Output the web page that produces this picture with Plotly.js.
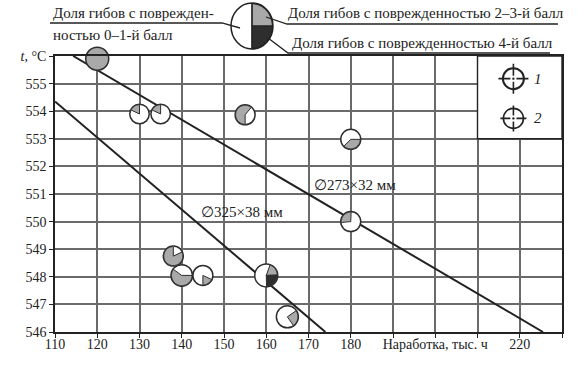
<!DOCTYPE html>
<html><head><meta charset="utf-8">
<script src="https://cdn.plot.ly/plotly-3.0.1.min.js"></script>
<style>html,body{margin:0;padding:0;background:#fff}</style>
</head><body><div id="chart" style="width:585px;height:369px"></div>
<script>
// ---- data ----
const pointX   = [120, 130, 135, 155, 180, 180, 138, 140, 145, 160, 165];
const pointT   = [555.9, 553.9, 553.9, 553.87, 552.98, 550.0, 548.75, 548.05, 548.05, 548.05, 546.55];
const share23  = [1.0, 0.18, 0.18, 0.61, 0.375, 0.27, 0.82, 0.6, 0.18, 0.19, 0.25];
const share4   = [0, 0, 0, 0, 0, 0, 0, 0, 0, 0.25, 0];
const line1X = [114.3, 225.5], line1T = [556, 546];   // ∅273×32 мм
const line2X = [110, 174],     line2T = [554.35, 546]; // ∅325×38 мм
const xTickVals = [110,120,130,140,150,160,170,180,190,200,210,220,230];
const xTickText = ['110','120','130','140','150','160','170','180','','Наработка, тыс. ч','','220',''];
const yTickVals = [546,547,548,549,550,551,552,553,554,555,556];
const yTickText = ['546','547','548','549','550','551','552','553','554','555','<i>t</i>, °C'];

// ---- style ----
const glyphStart = [90, 155, 155, 270, 0, 185, 25, 0, -25, 70, 35];
const glyphSize  = [23, 19.5, 19.5, 20, 20, 20, 20, 21.5, 20, 23, 22];
const GREY = '#a9a9a9', DARK = '#2e2e2e', INK = '#222';
const FONT = '"Liberation Serif", "DejaVu Serif", serif';
const W = 585, H = 369, M = {l:55, r:23, t:56, b:37};
const PW = W - M.l - M.r, PH = H - M.t - M.b;
const px = v => (v - M.l) / PW;
const py = v => (H - M.b - v) / PH;

function sectorPath(startDeg, share, rx, ry) {
  const full = share >= 0.999;
  const n = Math.max(3, Math.ceil(share * 90));
  let d = full ? '' : 'M 0 0 ';
  for (let i = 0; i <= n; i++) {
    const a = (startDeg - share * 360 * i / n) * Math.PI / 180;
    d += ((full && i === 0) ? 'M ' : 'L ') + (rx * Math.cos(a)).toFixed(2) + ' ' + (ry * Math.sin(a)).toFixed(2) + ' ';
  }
  return d + 'Z';
}

const shapes = [];
pointX.forEach((x, i) => {
  const r = glyphSize[i] / 2 - 0.5;
  if (share23[i] > 0 && share23[i] < 0.999) {
    shapes.push({type:'path', xref:'x', yref:'y', xsizemode:'pixel', ysizemode:'pixel',
      xanchor:x, yanchor:pointT[i], path:sectorPath(glyphStart[i], share23[i], r, r),
      fillcolor:GREY, line:{color:DARK, width:1}, layer:'above'});
  }
  if (share4[i] > 0) {
    const s4 = glyphStart[i] - share23[i] * 360;
    shapes.push({type:'path', xref:'x', yref:'y', xsizemode:'pixel', ysizemode:'pixel',
      xanchor:x, yanchor:pointT[i], path:sectorPath(s4, share4[i], r, r),
      fillcolor:DARK, line:{color:DARK, width:1}, layer:'above'});
  }
});

shapes.push({type:'rect', xref:'x', yref:'y', x0:210, x1:230, y0:553, y1:556,
  fillcolor:'#fff', line:{color:INK, width:1.4}, layer:'above'});
const symbols = [{x:218.5, y:555.18, r:10.5, l:15, w:2}, {x:218.5, y:553.74, r:10, l:13, w:1.6}];
symbols.forEach(s => {
  shapes.push({type:'circle', xref:'x', yref:'y', xsizemode:'pixel', ysizemode:'pixel',
    xanchor:s.x, yanchor:s.y, x0:-s.r, x1:s.r, y0:-s.r, y1:s.r, line:{color:INK, width:s.w}, layer:'above'});
  shapes.push({type:'path', xref:'x', yref:'y', xsizemode:'pixel', ysizemode:'pixel',
    xanchor:s.x, yanchor:s.y,
    path:`M ${-s.l} 0 L -3 0 M 3 0 L ${s.l} 0 M 0 ${-s.l} L 0 -3 M 0 3 L 0 ${s.l}`,
    line:{color:INK, width:1.6}, layer:'above'});
  shapes.push({type:'circle', xref:'x', yref:'y', xsizemode:'pixel', ysizemode:'pixel',
    xanchor:s.x, yanchor:s.y, x0:-1.2, x1:1.2, y0:-1.2, y1:1.2, fillcolor:INK, line:{width:0}, layer:'above'});
});

const gx = px(252), gy = py(26), grx = 21, gry = 23;
shapes.push({type:'circle', xref:'paper', yref:'paper', xsizemode:'pixel', ysizemode:'pixel',
  xanchor:gx, yanchor:gy, x0:-grx, x1:grx, y0:-gry, y1:gry, fillcolor:'#fff', line:{color:INK, width:1.5}});
shapes.push({type:'path', xref:'paper', yref:'paper', xsizemode:'pixel', ysizemode:'pixel',
  xanchor:gx, yanchor:gy, path:sectorPath(90, 0.25, grx - 0.6, gry - 0.6), fillcolor:GREY, line:{color:INK, width:1.2}});
shapes.push({type:'path', xref:'paper', yref:'paper', xsizemode:'pixel', ysizemode:'pixel',
  xanchor:gx, yanchor:gy, path:sectorPath(0, 0.25, grx - 0.6, gry - 0.6), fillcolor:DARK, line:{color:INK, width:1.2}});
shapes.push({type:'path', xref:'paper', yref:'paper', xsizemode:'pixel', ysizemode:'pixel',
  xanchor:gx, yanchor:gy, path:`M 0 ${gry} L 0 ${-gry}`, line:{color:INK, width:1.2}});
const polyl = (pts) => shapes.push({type:'path', xref:'paper', yref:'paper',
  path:'M ' + pts.map(p => px(p[0]).toFixed(5) + ' ' + py(p[1]).toFixed(5)).join(' L '),
  line:{color:INK, width:1.3}});
polyl([[50,23],[222,23],[240,28]]);
polyl([[266,17],[287,24],[558,24]]);
polyl([[268,38],[288,53],[550,53]]);

const ann = (text, x, y, opts={}) => Object.assign({text, x, y, xref:'paper', yref:'paper',
  showarrow:false, xanchor:'left', yanchor:'middle', font:{family:FONT, size:15, color:INK}}, opts);
const annotations = [
  ann('Доля гибов с поврежден-', px(51), py(13)),
  ann('ностью 0–1-й балл', px(51), py(35)),
  ann('Доля гибов с поврежденностью 2–3-й балл', px(286), py(13)),
  ann('Доля гибов с поврежденностью 4-й балл', px(290), py(43)),
  {text:'∅273×32 мм', x:180.9, y:551.33, xref:'x', yref:'y', showarrow:false,
   font:{family:FONT, size:15, color:INK}},
  {text:'∅325×38 мм', x:154.3, y:550.35, xref:'x', yref:'y', showarrow:false,
   font:{family:FONT, size:15, color:INK}},
  {text:'<i>1</i>', x:224.3, y:555.18, xref:'x', yref:'y', showarrow:false,
   font:{family:FONT, size:15, color:INK}},
  {text:'<i>2</i>', x:224.3, y:553.74, xref:'x', yref:'y', showarrow:false,
   font:{family:FONT, size:15, color:INK}}
];

const traces = [
  {x:line1X, y:line1T, mode:'lines', line:{color:INK, width:2}, hoverinfo:'skip'},
  {x:line2X, y:line2T, mode:'lines', line:{color:INK, width:2}, hoverinfo:'skip'},
  {x:pointX, y:pointT, mode:'markers', cliponaxis:false,
   marker:{size:glyphSize, color:share23.map(s => s >= 0.999 ? GREY : '#fff'),
           line:{color:DARK, width:1.5}, opacity:1}}
];

const axisCommon = {showline:true, mirror:true, linecolor:INK, linewidth:1.5,
  showgrid:true, gridcolor:'#6a6a6a', gridwidth:2, zeroline:false,
  ticks:'outside', ticklen:4, tickcolor:INK, tickwidth:1.3,
  tickfont:{family:FONT, size:14, color:INK}, fixedrange:true};

const layout = {
  width:W, height:H, margin:M, showlegend:false,
  paper_bgcolor:'#fff', plot_bgcolor:'#fff',
  font:{family:FONT, size:14, color:INK},
  xaxis:Object.assign({}, axisCommon, {range:[110,230], tickmode:'array', tickvals:xTickVals, ticktext:xTickText, ticklabelstandoff:-6}),
  yaxis:Object.assign({}, axisCommon, {range:[546,556], tickmode:'array', tickvals:yTickVals, ticktext:yTickText}),
  shapes, annotations
};
Plotly.newPlot('chart', traces, layout, {displayModeBar:false});
</script></body></html>
